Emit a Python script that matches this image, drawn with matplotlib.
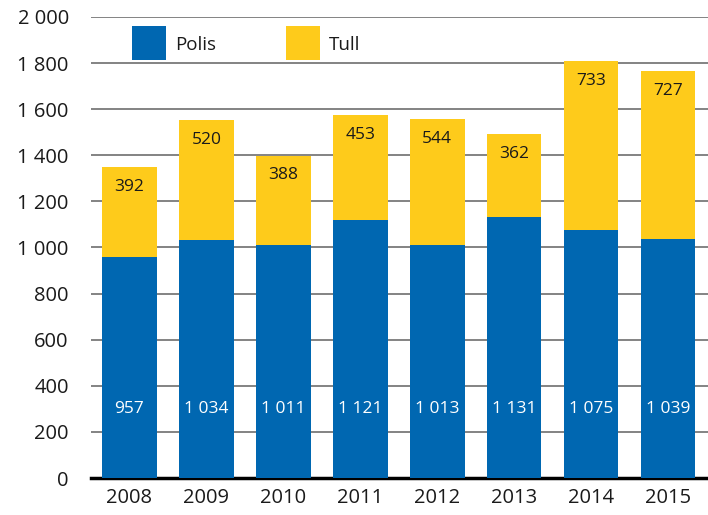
import matplotlib
matplotlib.use("Agg")
import matplotlib.pyplot as plt
from matplotlib.patches import Rectangle
from matplotlib.ticker import FuncFormatter, MultipleLocator

years = ["2008", "2009", "2010", "2011", "2012", "2013", "2014", "2015"]
polis = [957, 1034, 1011, 1121, 1013, 1131, 1075, 1039]
tull = [392, 520, 388, 453, 544, 362, 733, 727]
series_names = ["Polis", "Tull"]

BLUE = "#0067b1"
YELLOW = "#fecb1b"

plt.rcParams['font.family'] = ['Open Sans', 'DejaVu Sans']

def fmt(v):
    return f"{int(v):,}".replace(",", " ")

fig = plt.figure(figsize=(7.08, 5.15), dpi=100)
ax = fig.add_axes([91/708, 37/515, 617/708, 461/515])

x = list(range(len(years)))
w = 0.71
ax.bar(x, polis, width=w, color=BLUE, zorder=3)
ax.bar(x, tull, width=w, bottom=polis, color=YELLOW, zorder=3)

for i in x:
    ax.text(i, 300, fmt(polis[i]), ha='center', va='center', color='white',
            fontsize=12.5, zorder=4)
    ax.annotate(fmt(tull[i]), (i, polis[i] + tull[i]), xytext=(0, -8.5),
                textcoords='offset points', ha='center', va='top',
                color='#1a1a1a', fontsize=12.5, zorder=4)

ax.set_xlim(-0.5, 7.52)
ax.set_ylim(0, 2000)
ax.yaxis.set_major_locator(MultipleLocator(200))
ax.yaxis.set_major_formatter(FuncFormatter(lambda v, p: fmt(v)))
ax.set_xticks(x)
ax.set_xticklabels(years)
ax.grid(axis='y', color='#7a7a7a', linewidth=1.3, zorder=0)
ax.set_axisbelow(True)
for s in ['top', 'right', 'left']:
    ax.spines[s].set_visible(False)
ax.spines['bottom'].set_color('black')
ax.spines['bottom'].set_linewidth(2.5)
ax.spines['bottom'].set_zorder(2)
ax.tick_params(axis='y', length=0, pad=16, labelsize=14.5, labelcolor='#1a1a1a')
ax.tick_params(axis='x', length=0, pad=7, labelsize=14.5, labelcolor='#1a1a1a')

# legend
for (x0, name, col) in [(0.0665, series_names[0], BLUE), (0.316, series_names[1], YELLOW)]:
    ax.add_patch(Rectangle((x0, 0.9067), 0.055, 0.0738, transform=ax.transAxes,
                           facecolor=col, edgecolor='none', zorder=6, clip_on=False))
    ax.text(x0 + 0.07, 0.940, name, transform=ax.transAxes, ha='left', va='center',
            fontsize=13.5, color='#1a1a1a', zorder=6)

fig.savefig("out.png", dpi=100)
